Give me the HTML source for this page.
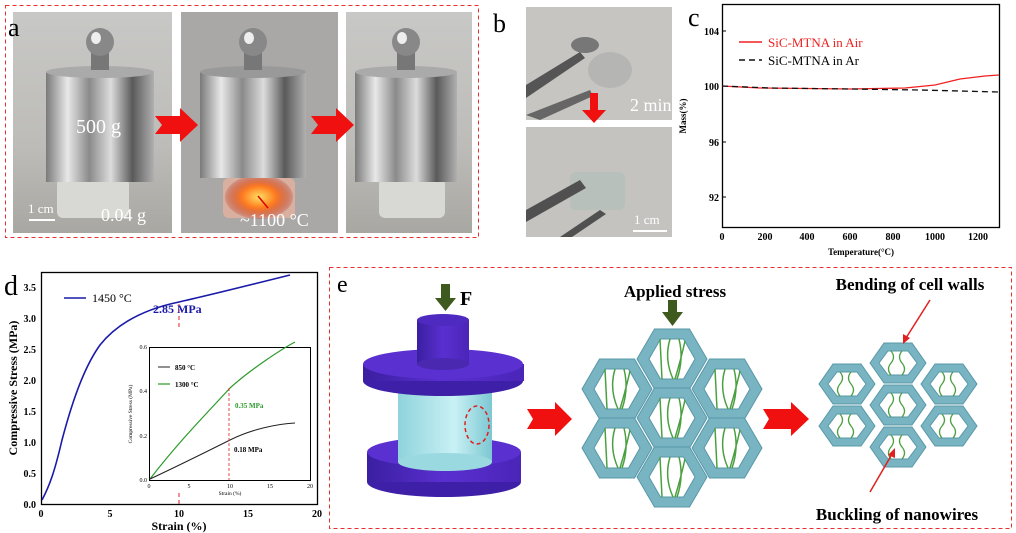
<!DOCTYPE html>
<html><head><meta charset="utf-8"><style>
body{margin:0;background:#fff;}
svg{display:block;font-family:"Liberation Serif",serif;}
</style></head><body>
<svg width="1016" height="533" viewBox="0 0 1016 533" xmlns="http://www.w3.org/2000/svg" xmlns:xlink="http://www.w3.org/1999/xlink">
<defs>
<linearGradient id="met" x1="0" x2="1"><stop offset="0" stop-color="#7a7a7a"/><stop offset=".2" stop-color="#e8e8e8"/><stop offset=".4" stop-color="#8a8a8a"/><stop offset=".6" stop-color="#dcdcdc"/><stop offset=".8" stop-color="#5a5a5a"/><stop offset="1" stop-color="#b0b0b0"/></linearGradient>
<linearGradient id="bg1" x1="0" y1="0" x2="0" y2="1"><stop offset="0" stop-color="#c8c8c6"/><stop offset=".6" stop-color="#bdbcb8"/><stop offset="1" stop-color="#a9a7a2"/></linearGradient>
<radialGradient id="glow"><stop offset="0" stop-color="#ffe060"/><stop offset=".5" stop-color="#ff7a20"/><stop offset="1" stop-color="#b02010" stop-opacity=".2"/></radialGradient>
<linearGradient id="cyl" x1="0" x2="1"><stop offset="0" stop-color="#8fd3dc"/><stop offset=".6" stop-color="#c8f1f5"/><stop offset="1" stop-color="#7cc7d2"/></linearGradient>
<linearGradient id="pur" x1="0" x2="1"><stop offset="0" stop-color="#3a1fa0"/><stop offset=".5" stop-color="#5a2fd0"/><stop offset="1" stop-color="#4a25b8"/></linearGradient>
<g id="hm">
<path d="M-35,0 L-17.5,-30 L17.5,-30 L35,0 L17.5,30 L-17.5,30 Z M-23,0 L-11.5,20 L11.5,20 L23,0 L11.5,-20 L-11.5,-20 Z" fill="#78b4c2" fill-rule="evenodd" stroke="#5a98a8" stroke-width="1"/>
<path d="M-12,-20 L-10,20 M-2,-20 q-6,20 3,40 M7,-20 q5,20 -2,40 M13,-18 q-4,18 -10,38" fill="none" stroke="#4aa040" stroke-width="1.5"/>
</g>
<g id="hr">
<path d="M-28,0 L-14,-20 L14,-20 L28,0 L14,20 L-14,20 Z M-19,0 L-10,12 L10,12 L19,0 L10,-12 L-10,-12 Z" fill="#78b4c2" fill-rule="evenodd" stroke="#5a98a8" stroke-width="1"/>
<path d="M-7,-12 q5,6 0,12 t0,12 M4,-12 q-5,6 0,12 t0,12" fill="none" stroke="#4aa040" stroke-width="1.3"/>
</g>
</defs>

<!-- Panel a -->
<rect x="5.5" y="5.5" width="473" height="232" fill="none" stroke="#e83030" stroke-dasharray="4,3"/>
<rect x="13" y="12" width="159" height="221" fill="url(#bg1)"/>
<rect x="181" y="12" width="157" height="221" fill="#a9a8a6"/>
<rect x="346" y="12" width="126" height="221" fill="url(#bg1)"/>
<g>
<rect x="57" y="178" width="72" height="40" rx="6" fill="#d8d8d4"/>
<rect x="46" y="72" width="108" height="110" fill="url(#met)"/>
<ellipse cx="100" cy="72" rx="54" ry="6" fill="#aaa"/>
<rect x="91" y="50" width="18" height="20" fill="#777"/>
<ellipse cx="100" cy="42" rx="14" ry="14" fill="#888"/>
<ellipse cx="96" cy="38" rx="5" ry="6" fill="#eee"/>
<rect x="223" y="178" width="72" height="40" rx="6" fill="#d9b0a0"/>
<ellipse cx="259" cy="197" rx="34" ry="22" fill="url(#glow)"/>
<rect x="200" y="72" width="106" height="106" fill="url(#met)"/>
<ellipse cx="253" cy="72" rx="53" ry="6" fill="#999"/>
<rect x="244" y="50" width="18" height="20" fill="#777"/>
<ellipse cx="253" cy="42" rx="14" ry="14" fill="#888"/>
<ellipse cx="249" cy="38" rx="5" ry="6" fill="#eee"/>
<rect x="379" y="178" width="66" height="40" rx="6" fill="#d8d8d4"/>
<rect x="355" y="72" width="102" height="110" fill="url(#met)"/>
<ellipse cx="406" cy="72" rx="51" ry="6" fill="#aaa"/>
<rect x="397" y="50" width="18" height="20" fill="#777"/>
<ellipse cx="406" cy="42" rx="14" ry="14" fill="#888"/>
<ellipse cx="402" cy="38" rx="5" ry="6" fill="#eee"/>
</g>
<text x="8" y="36" font-size="26">a</text>
<text x="76" y="133" font-size="20" fill="#fff">500 g</text>
<text x="101" y="221" font-size="18" fill="#fff">0.04 g</text>
<text x="28" y="213" font-size="13" fill="#fff">1 cm</text>
<rect x="29" y="219" width="26" height="2" fill="#fff"/>
<text x="240" y="226" font-size="18" fill="#fff">~1100 °C</text>
<line x1="268" y1="208" x2="258" y2="196" stroke="#d00" stroke-width="1.5"/>
<polygon points="155,116 180,116 180,108 198,125 180,142 180,134 155,134 162,125" fill="#f01010"/>
<polygon points="311,116 336,116 336,108 354,125 336,142 336,134 311,134 318,125" fill="#f01010"/>

<!-- Panel b -->
<text x="493" y="32" font-size="26">b</text>
<rect x="526" y="7" width="146" height="113" fill="#c6c5c2"/>
<rect x="526" y="127" width="146" height="110" fill="#c4c3c0"/>
<ellipse cx="585" cy="45" rx="14" ry="8" fill="#777"/>
<ellipse cx="610" cy="70" rx="22" ry="18" fill="#aaa" opacity=".6"/>
<polygon points="526,85 580,52 585,58 526,98" fill="#555"/>
<polygon points="526,115 590,90 593,96 540,120" fill="#666"/>
<rect x="570" y="172" width="55" height="38" rx="6" fill="#b8c0bc"/>
<polygon points="526,210 580,180 586,188 526,222" fill="#505050"/>
<polygon points="560,237 600,210 606,214 572,237" fill="#505050"/>
<text x="630" y="111" font-size="18" fill="#fff">2 min</text>
<text x="634" y="224" font-size="13" fill="#fff">1 cm</text>
<rect x="633" y="230" width="34" height="2" fill="#fff"/>
<polygon points="590,93 598,93 598,110 606,110 594,123 582,110 590,110" fill="#f01010"/>

<!-- Panel c -->
<text x="688" y="26" font-size="26">c</text>
<rect x="722.5" y="4.5" width="277" height="223" fill="none" stroke="#000" stroke-width="1.3"/>
<g font-size="10" font-weight="bold" text-anchor="end">
<text x="719" y="35">104</text><text x="719" y="90">100</text><text x="719" y="146">96</text><text x="719" y="201">92</text>
</g>
<g stroke="#000"><line x1="722" y1="31" x2="726" y2="31"/><line x1="722" y1="86" x2="726" y2="86"/><line x1="722" y1="142" x2="726" y2="142"/><line x1="722" y1="197" x2="726" y2="197"/></g>
<g font-size="10" font-weight="bold" text-anchor="middle">
<text x="722" y="240">0</text><text x="765" y="240">200</text><text x="807" y="240">400</text><text x="850" y="240">600</text><text x="893" y="240">800</text><text x="935" y="240">1000</text><text x="978" y="240">1200</text>
</g>
<text x="861" y="255" font-size="9" font-weight="bold" text-anchor="middle">Temperature(°C)</text>
<text transform="translate(686,116) rotate(-90)" font-size="9" font-weight="bold" text-anchor="middle">Mass(%)</text>
<path d="M722,86 L760,88 L850,89 L905,88 L935,85 L960,79 L985,76 L999,75" fill="none" stroke="#f02020" stroke-width="1.3"/>
<path d="M722,86 L770,88 L850,89 L920,90 L999,92" fill="none" stroke="#111" stroke-width="1.3" stroke-dasharray="6,4"/>
<line x1="739" y1="42" x2="762" y2="42" stroke="#f02020" stroke-width="1.5"/>
<text x="768" y="47" font-size="13" fill="#f02020">SiC-MTNA in Air</text>
<line x1="739" y1="60" x2="762" y2="60" stroke="#111" stroke-width="1.5" stroke-dasharray="6,4"/>
<text x="768" y="65" font-size="13">SiC-MTNA in Ar</text>

<!-- Panel d -->
<text x="4" y="295" font-size="28">d</text>
<rect x="41.5" y="272.5" width="276" height="232" fill="none" stroke="#000" stroke-width="1.3"/>
<g font-size="10" font-weight="bold" text-anchor="end">
<text x="36" y="508">0.0</text><text x="36" y="477">0.5</text><text x="36" y="446">1.0</text><text x="36" y="415">1.5</text><text x="36" y="384">2.0</text><text x="36" y="353">2.5</text><text x="36" y="322">3.0</text><text x="36" y="291">3.5</text>
</g>
<g font-size="10" font-weight="bold" text-anchor="middle">
<text x="41" y="517">0</text><text x="110" y="517">5</text><text x="179" y="517">10</text><text x="248" y="517">15</text><text x="317" y="517">20</text>
</g>
<text x="179" y="530" font-size="12" font-weight="bold" text-anchor="middle">Strain (%)</text>
<text transform="translate(17,388) rotate(-90)" font-size="12" font-weight="bold" text-anchor="middle">Compressive Stress (MPa)</text>
<path d="M42,500 C50,485 55,470 62,440 C70,410 82,370 100,345 C120,320 150,308 179,302 C210,295 250,285 290,275" fill="none" stroke="#1a1aa8" stroke-width="1.6"/>
<line x1="179" y1="327" x2="179" y2="304" stroke="#e02020" stroke-dasharray="4,3"/>
<line x1="179" y1="493" x2="179" y2="504" stroke="#e02020" stroke-dasharray="4,3"/>
<line x1="64" y1="298" x2="86" y2="298" stroke="#1a1aa8" stroke-width="1.6"/>
<text x="92" y="302" font-size="12">1450 °C</text>
<text x="153" y="313" font-size="12" font-weight="bold" fill="#1a1aa8">2.85 MPa</text>
<rect x="149.5" y="347.5" width="161" height="133" fill="#fff" stroke="#000"/>
<g font-size="6" text-anchor="end"><text x="147" y="482">0.0</text><text x="147" y="438">0.2</text><text x="147" y="393">0.4</text><text x="147" y="349">0.6</text></g>
<g font-size="6" text-anchor="middle"><text x="149" y="488">0</text><text x="189" y="488">5</text><text x="230" y="488">10</text><text x="270" y="488">15</text><text x="310" y="488">20</text></g>
<text x="230" y="495" font-size="5.5" text-anchor="middle">Strain (%)</text>
<text transform="translate(132,414) rotate(-90)" font-size="5.5" text-anchor="middle">Compressive Stress (MPa)</text>
<path d="M150,479 C180,440 210,410 230,388 C250,370 280,350 295,342" fill="none" stroke="#2a9a2a" stroke-width="1.2"/>
<path d="M150,479 C180,465 210,450 230,440 C250,430 275,424 295,423" fill="none" stroke="#222" stroke-width="1"/>
<line x1="229" y1="388" x2="229" y2="480" stroke="#e02020" stroke-dasharray="3,2" stroke-width=".8"/>
<line x1="158" y1="367" x2="170" y2="367" stroke="#222"/>
<text x="175" y="370" font-size="7" font-weight="bold">850 °C</text>
<line x1="158" y1="384" x2="170" y2="384" stroke="#2a9a2a" stroke-width="1.2"/>
<text x="175" y="387" font-size="7" font-weight="bold">1300 °C</text>
<text x="235" y="408" font-size="7" font-weight="bold" fill="#2a9a2a">0.35 MPa</text>
<text x="234" y="452" font-size="7" font-weight="bold">0.18 MPa</text>

<!-- Panel e -->
<rect x="329.5" y="267.5" width="682" height="261" fill="none" stroke="#e83030" stroke-dasharray="4,3"/>
<text x="337" y="292" font-size="24">e</text>
<!-- press: bottom disc -->
<ellipse cx="444" cy="482" rx="77" ry="15" fill="#3e20a8"/>
<rect x="367" y="452" width="154" height="30" fill="url(#pur)"/>
<ellipse cx="444" cy="452" rx="77" ry="15" fill="#5a30d0"/>
<!-- light cylinder -->
<rect x="398" y="380" width="94" height="82" fill="url(#cyl)"/>
<ellipse cx="445" cy="462" rx="47" ry="9" fill="#9ad9e0"/>
<!-- top disc -->
<ellipse cx="443" cy="381" rx="80" ry="15" fill="#3e20a8"/>
<rect x="363" y="364" width="161" height="17" fill="url(#pur)"/>
<ellipse cx="443" cy="364" rx="80" ry="15" fill="#5a30d0"/>
<!-- top small cylinder -->
<rect x="417" y="320" width="52" height="44" fill="url(#pur)"/>
<ellipse cx="443" cy="364" rx="26" ry="6" fill="#4a28b0"/>
<ellipse cx="443" cy="320" rx="26" ry="6" fill="#4e2ac0"/>
<ellipse cx="477" cy="425" rx="12" ry="19" fill="none" stroke="#e02020" stroke-width="1.5" stroke-dasharray="4,3"/>
<rect x="441" y="284" width="9" height="15" fill="#3e5a1e"/>
<polygon points="435,298 456,298 445.5,311" fill="#3e5a1e"/>
<text x="460" y="305" font-size="20" font-weight="bold">F</text>
<!-- red arrows e -->
<polygon points="527,409 555,409 555,402 572,419 555,436 555,429 527,429 533,419" fill="#f01010"/>
<polygon points="763,409 791,409 791,402 809,419 791,436 791,429 763,429 769,419" fill="#f01010"/>
<!-- honeycomb middle -->
<use xlink:href="#hm" x="617" y="389"/>
<use xlink:href="#hm" x="727" y="389"/>
<use xlink:href="#hm" x="617" y="448"/>
<use xlink:href="#hm" x="727" y="448"/>
<use xlink:href="#hm" x="672" y="359"/>
<use xlink:href="#hm" x="672" y="418"/>
<use xlink:href="#hm" x="672" y="477"/>
<rect x="668" y="300" width="9" height="14" fill="#3e5a1e"/>
<polygon points="662,312 683,312 672.5,326" fill="#3e5a1e"/>
<text x="675" y="297" font-size="17" font-weight="bold" text-anchor="middle">Applied stress</text>
<!-- honeycomb right -->
<use xlink:href="#hr" x="847" y="384"/>
<use xlink:href="#hr" x="949" y="384"/>
<use xlink:href="#hr" x="847" y="426"/>
<use xlink:href="#hr" x="949" y="426"/>
<use xlink:href="#hr" x="898" y="363"/>
<use xlink:href="#hr" x="898" y="405"/>
<use xlink:href="#hr" x="898" y="447"/>
<text x="910" y="290" font-size="17" font-weight="bold" text-anchor="middle">Bending of cell walls</text>
<line x1="930" y1="300" x2="906" y2="338" stroke="#e02020" stroke-width="1.5"/>
<polygon points="903,344 903,334 910,338" fill="#e02020"/>
<text x="897" y="520" font-size="17" font-weight="bold" text-anchor="middle">Buckling of nanowires</text>
<line x1="870" y1="492" x2="892" y2="454" stroke="#e02020" stroke-width="1.5"/>
<polygon points="895,448 895,458 888,455" fill="#e02020"/>
</svg>
</body></html>
